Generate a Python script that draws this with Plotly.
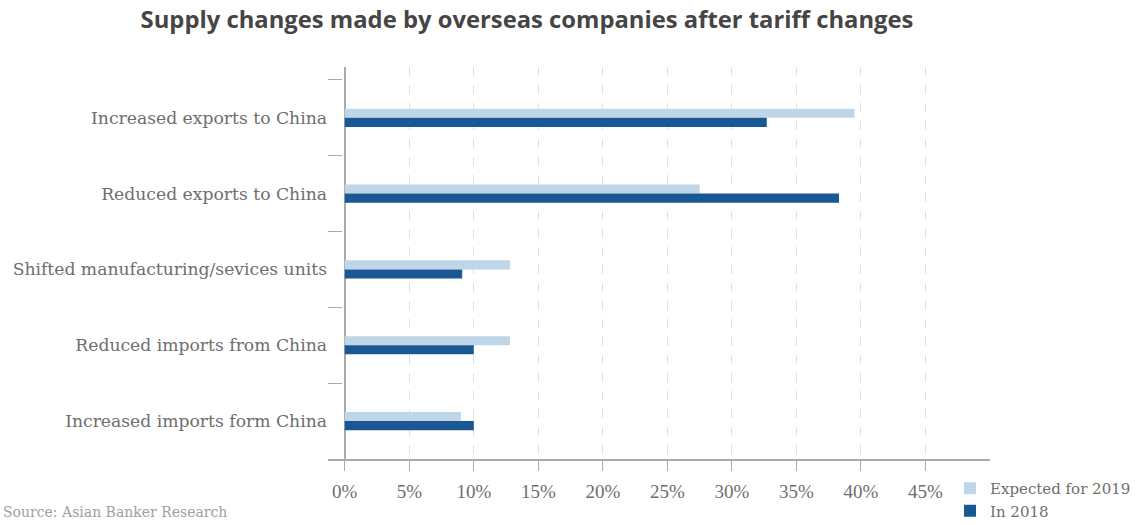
import plotly.graph_objects as go

categories = ["Increased exports to China", "Reduced exports to China",
              "Shifted manufacturing/sevices units", "Reduced imports from China",
              "Increased imports form China"]
expected_2019 = [39.5, 27.5, 12.8, 12.8, 9.0]
in_2018 = [32.7, 38.3, 9.1, 10.0, 10.0]
tick_vals = [0, 5, 10, 15, 20, 25, 30, 35, 40, 45]
tick_text = [f"{v}%" for v in tick_vals]

LIGHT = "#bfd6e9"
DARK = "#1a5893"
GREY = "#6e6e6e"
SERIF = "DejaVu Serif"
NUMF = "Liberation Serif"

fig = go.Figure()
fig.add_trace(go.Bar(y=categories, x=expected_2019, orientation="h", name="Expected for 2019",
                     marker=dict(color=LIGHT, line=dict(width=0))))
fig.add_trace(go.Bar(y=categories, x=in_2018, orientation="h", name="In 2018",
                     marker=dict(color=DARK, line=dict(width=0))))

W, H = 1138, 525
L, R, T, B = 328, 148, 67, 66
fig.update_layout(
    width=W, height=H,
    margin=dict(l=L, r=R, t=T, b=B, autoexpand=False),
    paper_bgcolor="white", plot_bgcolor="white",
    barmode="group", bargap=0.76, bargroupgap=0,
    title=dict(text="<b>Supply changes made by overseas companies after tariff changes</b>",
               x=527 / W, xanchor="center", xref="container",
               y=1 - 20 / H, yanchor="middle", yref="container",
               font=dict(family="Open Sans", size=23.8, color="#454545")),
    legend=dict(x=950 / W, xanchor="left", xref="container",
                y=1 - 472 / H, yanchor="top", yref="container",
                font=dict(family=SERIF, size=15, color=GREY),
                itemwidth=30, tracegroupgap=0, bgcolor="rgba(0,0,0,0)"),
    showlegend=True,
    font=dict(family=SERIF, color=GREY),
)
fig.update_xaxes(range=[-1.3, 50], tickvals=tick_vals, ticktext=tick_text, automargin=False,
                 showgrid=True, gridcolor="#e0e0e0", griddash="dash", gridwidth=1,
                 zeroline=True, zerolinecolor="#aaaaaa", zerolinewidth=1.5,
                 showline=True, linecolor="#aaaaaa", linewidth=1.5,
                 ticks="outside", ticklen=10, tickcolor="#aaaaaa", ticklabelstandoff=4,
                 tickfont=dict(family=NUMF, size=19, color=GREY))
fig.update_yaxes(categoryorder="array", categoryarray=categories, automargin=False,
                 range=[4.5, -0.67], tickson="boundaries",
                 ticks="inside", ticklen=14, tickcolor="#aaaaaa",
                 showgrid=False, showline=False,
                 tickfont=dict(family=SERIF, size=17.2, color=GREY))
fig.add_annotation(text="Source: Asian Banker Research", xref="paper", yref="paper",
                   x=-(L - 1) / (W - L - R), xanchor="left",
                   y=-(512 - (H - B)) / (H - T - B), yanchor="middle",
                   showarrow=False, font=dict(family=SERIF, size=14, color="#a0a0a0"))
fig.write_html("out.html", config={"displayModeBar": False},
               post_script="document.body.style.margin='0';")
